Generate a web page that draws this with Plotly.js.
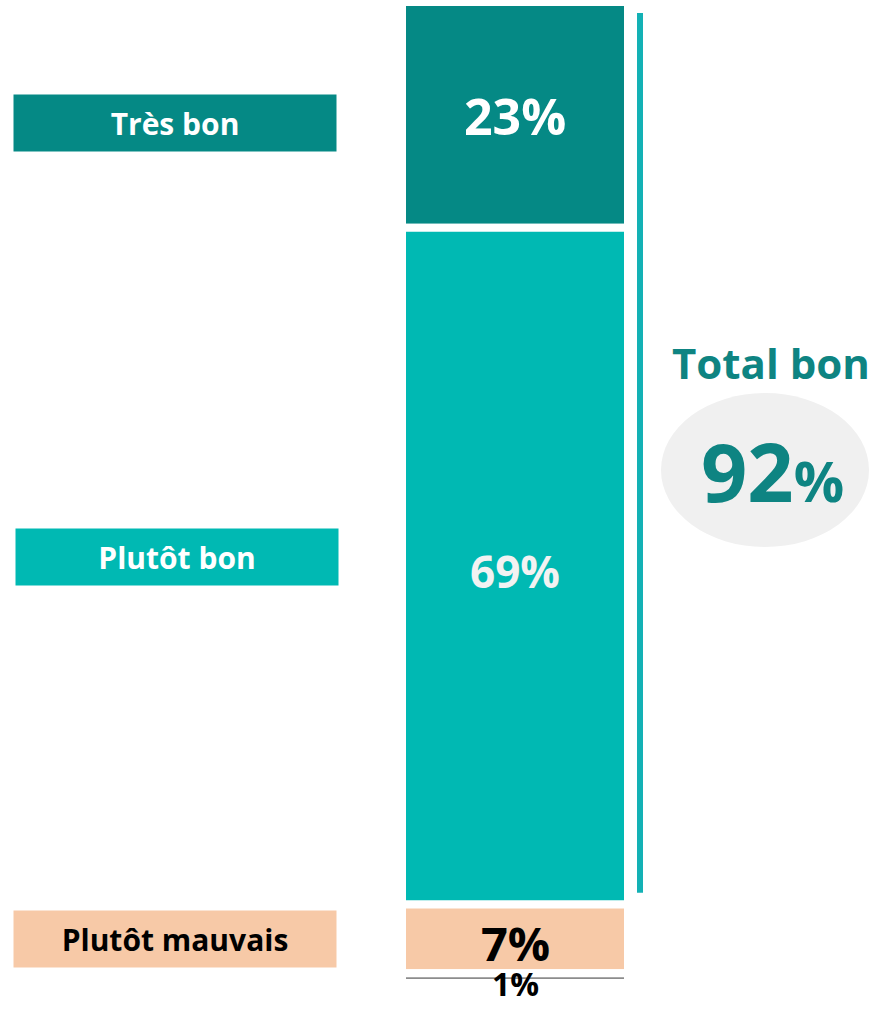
<!DOCTYPE html>
<html>
<head>
<meta charset="utf-8">
<script src="https://cdn.plot.ly/plotly-3.0.1.min.js"></script>
<style>html,body{margin:0;padding:0;background:#fff;}#chart{width:871px;height:1009px;}</style>
</head>
<body>
<div id="chart"></div>
<script>
// ---- Data ----
const categories = ["Très bon", "Plutôt bon", "Plutôt mauvais", "Ne sait pas"];
const values = [23, 69, 7, 1];
const valueLabels = ["23%", "69%", "7%", "1%"];
const barColors = ["#058985", "#00b9b3", "#f7c9a7", "#8c8c8c"];
const labelTextColors = ["#ffffff", "#f2f2f2", "#000000", "#000000"];
const boxTextColors = ["#ffffff", "#ffffff", "#000000"];
const totalLabel = "Total bon";
const totalValue = values[0] + values[1];

// ---- Build ----
const bases = [];
let acc = 0;
values.forEach(v => { bases.push(acc); acc += v; });

const FONT = "'Open Sans', sans-serif";
const W = 871, H = 1009;
const barCenterPx = 515, barWidthPx = 226;
const xr = [-barCenterPx / barWidthPx, (W - barCenterPx) / barWidthPx];

const trace = {
  type: "bar",
  x: values.map(() => 0),
  y: values,
  base: bases,
  width: 1,
  marker: { color: barColors, line: { color: "#ffffff", width: 8 } },
  hoverinfo: "skip",
  showlegend: false
};

const px = p => p / W; // paper x from pixels
const annotations = [];

// value labels inside bar
const labelSizes = [50, 44, 47, 32];
const labelShift = [-1, -5, -4, -5];
values.forEach((v, i) => {
  annotations.push({
    x: 0, y: bases[i] + v / 2, xref: "x", yref: "y", xanchor: "center", yanchor: "middle",
    text: "<b>" + valueLabels[i] + "</b>", showarrow: false,
    yshift: labelShift[i],
    font: { family: FONT, size: labelSizes[i], color: labelTextColors[i] }
  });
});

// left category boxes
const boxY = [12.33, 56.6, 95.5];
const boxX = [175, 177, 175];
for (let i = 0; i < 3; i++) {
  annotations.push({
    x: px(boxX[i]), y: boxY[i], xref: "paper", yref: "y", xanchor: "center", yanchor: "middle",
    text: "<b>" + categories[i] + "</b>", showarrow: false,
    width: 322, height: 56, bgcolor: barColors[i], borderpad: 0,
    font: { family: FONT, size: 30, color: boxTextColors[i] }
  });
}
// Ne sait pas
annotations.push({
  x: px(338), y: 101.3, xref: "paper", yref: "y", xanchor: "right", yanchor: "middle",
  text: "<i>" + categories[3] + "</i>", showarrow: false,
  font: { family: FONT, size: 23, color: "#3a3a3a" }
});

// total
annotations.push({
  x: px(771), y: 36.7, xref: "paper", yref: "y", xanchor: "center", yanchor: "middle",
  text: "<b>" + totalLabel + "</b>", showarrow: false,
  font: { family: FONT, size: 42, color: "#0e8482" }
});
annotations.push({
  x: px(772), y: 47.8, xref: "paper", yref: "y", xanchor: "center", yanchor: "middle",
  text: "<b>" + totalValue + "<span style='font-size:56px'>%</span></b>", showarrow: false,
  font: { family: FONT, size: 81, color: "#0e8482" }
});

const shapes = [
  { type: "circle", xref: "paper", yref: "y", x0: px(661), x1: px(869), y0: 39.86, y1: 55.56,
    fillcolor: "#f0f0f0", line: { width: 0 }, layer: "below" },
  { type: "line", xref: "paper", yref: "y", x0: px(640), x1: px(640), y0: 1.12, y1: totalValue - 1.2,
    line: { color: "#13b1b5", width: 6 } }
];

const layout = {
  width: W, height: H,
  margin: { l: 0, r: 0, t: 2, b: 26 },
  paper_bgcolor: "#ffffff", plot_bgcolor: "#ffffff",
  xaxis: { range: xr, visible: false, fixedrange: true },
  yaxis: { range: [100, 0], visible: false, fixedrange: true },
  barmode: "overlay",
  annotations: annotations,
  shapes: shapes,
  showlegend: false
};

Plotly.newPlot("chart", [trace], layout, { displayModeBar: false, staticPlot: true });
</script>
</body>
</html>
